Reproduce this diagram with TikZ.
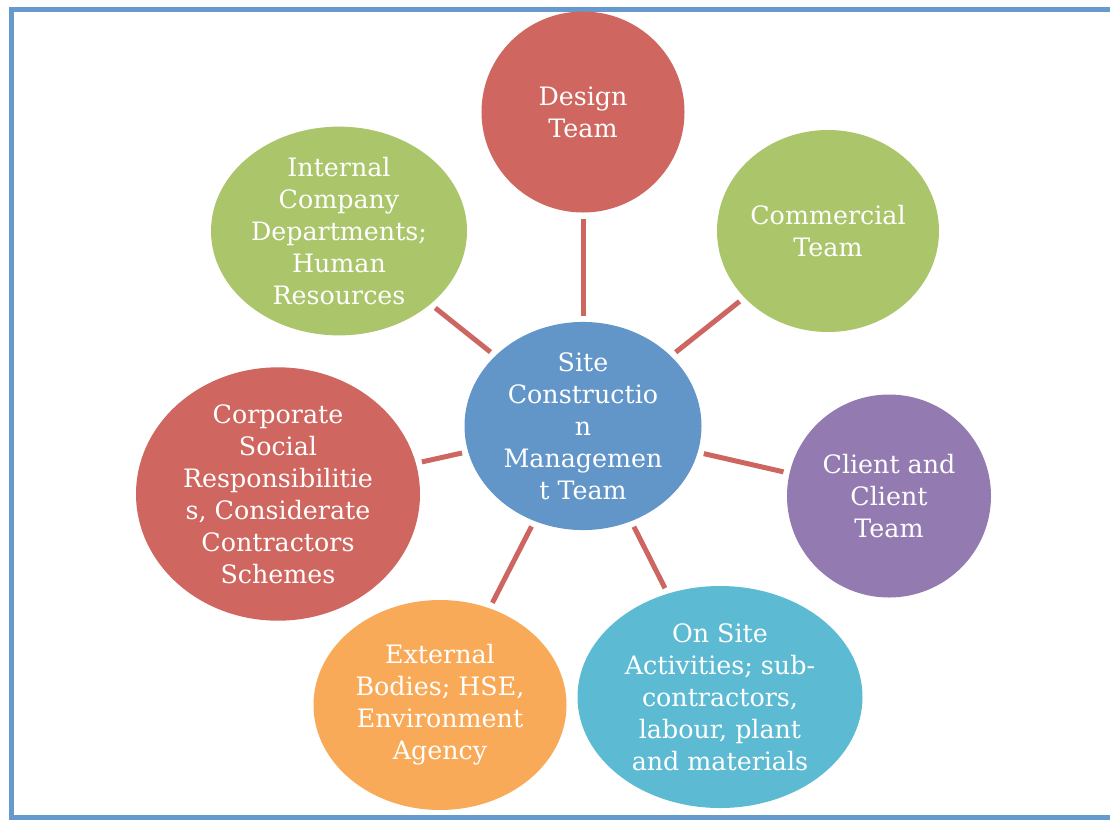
\documentclass[tikz,border=0pt]{standalone}
\usepackage{fontspec}
\setmainfont{DejaVu Serif}
\usetikzlibrary{shapes.geometric}
\definecolor{FrameBlue}{HTML}{6699CC}
\definecolor{HubBlue}{HTML}{6296C9}
\definecolor{LinkRed}{HTML}{CD6660}
\definecolor{TeamRed}{HTML}{CF6660}
\definecolor{TeamGreen}{HTML}{ABC56B}
\definecolor{TeamPurple}{HTML}{937BB1}
\definecolor{TeamCyan}{HTML}{5CBBD3}
\definecolor{TeamOrange}{HTML}{F9AA58}

\begin{document}
\begin{tikzpicture}[x=0.75pt,y=-0.75pt,
  bubble/.style={ellipse,inner sep=0pt,text=white,align=center,
    font=\fontsize{19}{24}\selectfont},
  link/.style={draw=LinkRed,line width=3.75pt,shorten <=4.5pt,shorten >=4.5pt}]
 \useasboundingbox (0,0) rectangle (1110,819);
 \draw[FrameBlue,line width=3.75pt] (11,9) rectangle (1120,817);
 % hub
 \node[bubble,fill=HubBlue,minimum width=237*0.75pt,minimum height=203*0.75pt] (hub) at (583,426)
   {Site\\Constructio\\n\\Managemen\\t Team};
 % teams round the hub
 \node[bubble,fill=TeamRed,minimum width=203*0.75pt,minimum height=201*0.75pt] (design) at (583,112)
   {Design\\Team};
 \node[bubble,fill=TeamGreen,minimum width=222*0.75pt,minimum height=202*0.75pt] (commercial) at (828,231)
   {Commercial\\Team};
 \node[bubble,fill=TeamPurple,minimum width=204*0.75pt,minimum height=203*0.75pt] (client) at (889,496)
   {Client and\\Client\\Team};
 \node[bubble,fill=TeamCyan,minimum width=285*0.75pt,minimum height=222*0.75pt] (onsite) at (720,697)
   {On Site\\Activities; sub-\\contractors,\\labour, plant\\and materials};
 \node[bubble,fill=TeamOrange,minimum width=253*0.75pt,minimum height=210*0.75pt] (external) at (440,705)
   {External\\Bodies; HSE,\\Environment\\Agency};
 \node[bubble,fill=TeamRed,minimum width=284*0.75pt,minimum height=213*0.75pt] (corporate) at (278,494)
   {Corporate\\Social\\Responsibilitie\\s, Considerate\\Contractors\\Schemes};
 \node[bubble,fill=TeamGreen,minimum width=256*0.75pt,minimum height=202*0.75pt] (internal) at (339,231)
   {Internal\\Company\\Departments;\\Human\\Resources};
 % links
 \foreach \team in {design,commercial,client,onsite,external,corporate,internal}
   \draw[link] (hub) -- (\team);
\end{tikzpicture}
\end{document}
